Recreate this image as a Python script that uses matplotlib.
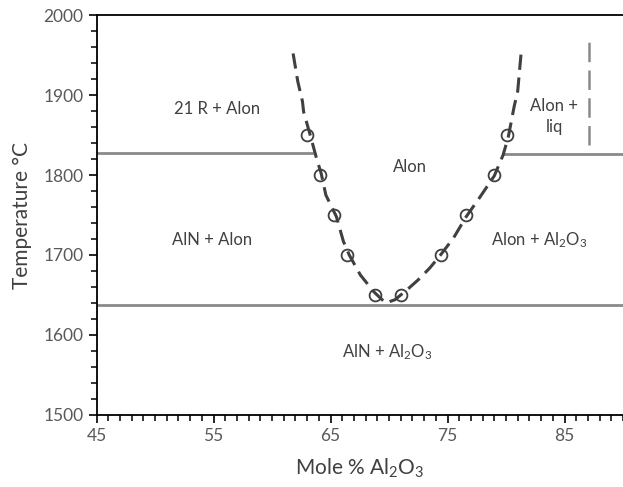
import matplotlib
matplotlib.use("Agg")
import matplotlib.pyplot as plt
from matplotlib.ticker import MultipleLocator

plt.rcParams['font.family'] = ['Lato', 'DejaVu Sans']
plt.rcParams['mathtext.fontset'] = 'custom'
plt.rcParams['mathtext.rm'] = 'Lato'
plt.rcParams['mathtext.it'] = 'Lato:italic'
plt.rcParams['lines.scale_dashes'] = False

# measured points on the Alon boundary (mol % Al2O3, deg C)
left_x = [63.0, 64.1, 65.3, 66.4, 68.8]
left_t = [1850, 1800, 1750, 1700, 1650]
right_x = [71.0, 74.4, 76.6, 79.0, 80.1]
right_t = [1650, 1700, 1750, 1800, 1850]

# fitted boundary curve
curve_x = [61.8, 62.2, 62.6, 62.7, 63.3, 63.8, 64.2, 64.6, 65.5, 66.1, 66.6,
           67.55, 68.7, 69.7, 70.5, 71.5, 72.5, 73.5, 74.4, 75.5, 76.6, 77.8,
           79.0, 79.75, 80.2, 80.7, 81.0, 81.3]
curve_t = [1952, 1917, 1892, 1879, 1848, 1821, 1802, 1775, 1748, 1717, 1700,
           1675, 1654, 1640, 1644, 1656, 1669, 1684, 1700, 1721, 1748, 1773,
           1799, 1825, 1848, 1886, 1905, 1954]

# invariant lines
t_upper_left = 1828
t_upper_right = 1826
t_lower = 1637
x_left_end = 63.4
x_right_start = 79.75
liq_x = 87.1
liq_t = [1838, 1975]

fig = plt.figure(figsize=(6.23, 4.87), dpi=100)
ax = fig.add_axes([0.155, 0.148, 0.845, 0.821])

grey = '#8a8a8a'
dark = '#404040'

ax.plot([45, x_left_end], [t_upper_left] * 2, color=grey, lw=2)
ax.plot([x_right_start, 90], [t_upper_right] * 2, color=grey, lw=2)
ax.plot([45, 90], [t_lower] * 2, color=grey, lw=2)
ax.plot([liq_x, liq_x], liq_t, color=grey, lw=1.8, dashes=(14, 6))

ax.plot(curve_x, curve_t, color=dark, lw=2.2, dashes=(11, 5.5),
        solid_capstyle='butt')
ax.plot(left_x + right_x, left_t + right_t, 'o', ms=8.5, mfc='none',
        mec=dark, mew=1.3)

txt = dict(fontsize=12, color=dark, ha='center', va='center')
ax.text(55.3, 1882, '21 R + Alon', **txt)
ax.text(71.75, 1810, 'Alon', **txt)
ax.text(84.1, 1873, 'Alon +\nliq', linespacing=1.4, **txt)
ax.text(54.9, 1719, 'AlN + Alon', **txt)
ax.text(82.8, 1719, r'Alon + Al$_2$O$_3$', **txt)
ax.text(69.8, 1578, r'AlN + Al$_2$O$_3$', **txt)

ax.set_xlim(45, 90)
ax.set_ylim(1500, 2000)
ax.set_xticks([45, 55, 65, 75, 85])
ax.xaxis.set_minor_locator(MultipleLocator(1))
ax.set_yticks([1500, 1600, 1700, 1800, 1900, 2000])
ax.yaxis.set_minor_locator(MultipleLocator(20))
ax.tick_params(which='major', direction='out', length=6, width=1.2,
               labelsize=12.5, labelcolor='#595959')
ax.tick_params(which='minor', direction='out', length=4, width=1.1)
ax.spines['right'].set_visible(False)
for s in ['left', 'bottom', 'top']:
    ax.spines[s].set_linewidth(1.3)

ax.set_xlabel(r'Mole % Al$_2$O$_3$', fontsize=15, color=dark, labelpad=9)
ax.set_ylabel('Temperature °C', fontsize=15, color=dark, labelpad=8)

fig.savefig('out.png', dpi=100)
